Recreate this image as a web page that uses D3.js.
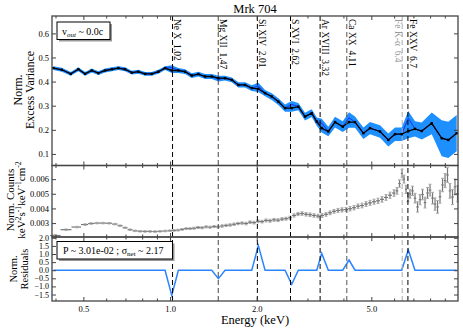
<!DOCTYPE html>
<html>
<head>
<meta charset="utf-8">
<script src="https://cdn.jsdelivr.net/npm/d3@7"></script>
<style>
  body { margin: 0; background: #fff; }
  svg { font-family: "Liberation Serif", "DejaVu Serif", serif; }
</style>
</head>
<body>
<div id="chart"></div>
<script>
// variance spectrum (top panel)
const varEnergy = [0.3934, 0.4207, 0.4520, 0.4802, 0.5068, 0.5346, 0.5637, 0.5946, 0.6273, 0.6614,
  0.6978, 0.7362, 0.7760, 0.8187, 0.8638, 0.9107, 0.9608, 1.0137, 1.0686, 1.1274,
  1.1894, 1.2541, 1.3231, 1.3959, 1.4718, 1.5524, 1.6378, 1.7266, 1.8215, 1.9216,
  2.0259, 2.1375, 2.2550, 2.3770, 2.5077, 2.6456, 2.7891, 2.9425, 3.1046, 3.2320,
  3.3630, 3.5450, 3.7411, 3.9783, 4.1831, 4.3892, 4.6924, 4.9488, 5.3608, 5.7280,
  6.0423, 6.3739, 6.7191, 7.0894, 7.4817, 8.1058, 8.7799, 9.2536, 9.8970];
const excessVar = [0.456, 0.449, 0.432, 0.451, 0.432, 0.446, 0.435, 0.446, 0.451, 0.456,
  0.451, 0.437, 0.441, 0.432, 0.432, 0.441, 0.456, 0.446, 0.446, 0.441,
  0.425, 0.431, 0.421, 0.421, 0.414, 0.414, 0.407, 0.386, 0.386, 0.373,
  0.370, 0.352, 0.338, 0.317, 0.290, 0.290, 0.296, 0.255, 0.269, 0.234,
  0.207, 0.193, 0.232, 0.213, 0.232, 0.232, 0.186, 0.207, 0.193, 0.158,
  0.182, 0.182, 0.195, 0.204, 0.195, 0.227, 0.165, 0.158, 0.186];
const excessErr = [0.008, 0.008, 0.008, 0.008, 0.008, 0.008, 0.008, 0.008, 0.008, 0.008,
  0.008, 0.008, 0.008, 0.008, 0.008, 0.008, 0.008, 0.010, 0.010, 0.010,
  0.010, 0.010, 0.010, 0.010, 0.010, 0.010, 0.010, 0.011, 0.011, 0.012,
  0.013, 0.013, 0.014, 0.014, 0.015, 0.015, 0.015, 0.016, 0.016, 0.017,
  0.018, 0.020, 0.022, 0.022, 0.023, 0.023, 0.024, 0.025, 0.026, 0.027,
  0.028, 0.028, 0.030, 0.032, 0.035, 0.045, 0.075, 0.075, 0.075];
const modelVar = [0.456, 0.449, 0.432, 0.451, 0.432, 0.446, 0.435, 0.446, 0.451, 0.456,
  0.451, 0.437, 0.441, 0.432, 0.432, 0.441, 0.456, 0.458, 0.446, 0.441,
  0.425, 0.431, 0.421, 0.421, 0.410, 0.414, 0.407, 0.386, 0.386, 0.373,
  0.382, 0.352, 0.338, 0.317, 0.290, 0.305, 0.296, 0.255, 0.269, 0.234,
  0.228, 0.193, 0.232, 0.213, 0.250, 0.232, 0.186, 0.207, 0.193, 0.158,
  0.182, 0.182, 0.248, 0.204, 0.195, 0.227, 0.165, 0.158, 0.186];
const residuals = [0, 0, 0, 0, 0, 0, 0, 0, 0, 0,
  0, 0, 0, 0, 0, 0, 0, -1.55, 0, 0,
  0, 0, 0, 0, -0.52, 0, 0, 0, 0, 0,
  1.52, 0, 0, 0, 0, -0.87, 0, 0, 0, 0,
  1.04, 0, 0, 0, 0.63, 0, 0, 0, 0, 0,
  0, 0, 1.25, 0, 0, 0, 0, 0, 0];

// count spectrum (middle panel)
const specEnergy = [0.399, 0.435, 0.475, 0.507, 0.532, 0.558, 0.585, 0.614, 0.644, 0.671,
  0.698, 0.726, 0.756, 0.787, 0.819, 0.852, 0.887, 0.923, 0.961, 1.000,
  1.032, 1.066, 1.101, 1.137, 1.173, 1.211, 1.251, 1.292, 1.334, 1.377,
  1.422, 1.468, 1.516, 1.565, 1.616, 1.668, 1.722, 1.778, 1.836, 1.896,
  1.957, 2.021, 2.086, 2.154, 2.224, 2.297, 2.371, 2.448, 2.528, 2.610,
  2.695, 2.783, 2.873, 2.966, 3.063, 3.162, 3.265, 3.371, 3.481, 3.594,
  3.711, 3.831, 3.956, 4.084, 4.217, 4.354, 4.496, 4.642, 4.793, 4.948,
  5.109, 5.275, 5.447, 5.623, 5.806, 5.995, 6.141, 6.265, 6.392, 6.494,
  6.599, 6.705, 6.813, 6.950, 7.091, 7.235, 7.381, 7.530, 7.682, 7.838,
  7.996, 8.158, 8.323, 8.491, 8.660, 8.837, 9.016, 9.195, 9.380, 9.570,
  9.763, 9.961];
const specCounts = [0.00215, 0.00255, 0.00273, 0.00290, 0.00297, 0.00300, 0.00300, 0.00299, 0.00293, 0.00282,
  0.00268, 0.00255, 0.00247, 0.00244, 0.00243, 0.00243, 0.00242, 0.00244, 0.00246, 0.00248,
  0.00250, 0.00252, 0.00257, 0.00262, 0.00262, 0.00265, 0.00270, 0.00268, 0.00274, 0.00272,
  0.00276, 0.00274, 0.00280, 0.00284, 0.00287, 0.00292, 0.00297, 0.00300, 0.00297, 0.00306,
  0.00303, 0.00312, 0.00310, 0.00318, 0.00316, 0.00322, 0.00320, 0.00327, 0.00330, 0.00336,
  0.00352, 0.00362, 0.00365, 0.00360, 0.00357, 0.00352, 0.00348, 0.00352, 0.00360, 0.00370,
  0.00380, 0.00386, 0.00390, 0.00392, 0.00398, 0.00405, 0.00415, 0.00420, 0.00430, 0.00438,
  0.00446, 0.00452, 0.00462, 0.00475, 0.00490, 0.00505, 0.00520, 0.00570, 0.00640, 0.00600,
  0.00530, 0.00475, 0.00500, 0.00520, 0.00470, 0.00410, 0.00460, 0.00495, 0.00440, 0.00505,
  0.00525, 0.00470, 0.00430, 0.00410, 0.00480, 0.00560, 0.00590, 0.00628, 0.00520, 0.00478,
  0.00547, 0.00500];
const specErr = [0.00005, 0.00005, 0.00005, 0.00005, 0.00005, 0.00005, 0.00005, 0.00005, 0.00005, 0.00005,
  0.00005, 0.00005, 0.00005, 0.00005, 0.00005, 0.00005, 0.00005, 0.00005, 0.00005, 0.00005,
  0.00006, 0.00006, 0.00006, 0.00006, 0.00006, 0.00007, 0.00007, 0.00007, 0.00007, 0.00007,
  0.00007, 0.00007, 0.00008, 0.00008, 0.00008, 0.00008, 0.00008, 0.00008, 0.00009, 0.00009,
  0.00009, 0.00009, 0.00009, 0.00010, 0.00010, 0.00010, 0.00010, 0.00010, 0.00010, 0.00011,
  0.00011, 0.00011, 0.00012, 0.00012, 0.00012, 0.00012, 0.00012, 0.00013, 0.00013, 0.00013,
  0.00013, 0.00014, 0.00014, 0.00014, 0.00015, 0.00015, 0.00015, 0.00016, 0.00016, 0.00017,
  0.00017, 0.00018, 0.00019, 0.00020, 0.00021, 0.00022, 0.00023, 0.00025, 0.00027, 0.00027,
  0.00028, 0.00030, 0.00030, 0.00032, 0.00033, 0.00035, 0.00035, 0.00036, 0.00037, 0.00038,
  0.00040, 0.00040, 0.00042, 0.00043, 0.00044, 0.00046, 0.00048, 0.00050, 0.00050, 0.00052,
  0.00054, 0.00055];

// line identifications
const lineNames = ["Ne X", "Mg XII", "Si XIV", "S XVI", "Ar XVIII", "Ca XX", "Fe K-α", "Fe XXV"];
const lineEnergy = [1.02, 1.47, 2.01, 2.62, 3.32, 4.11, 6.4, 6.7];
const lineLabel = ["1.02", "1.47", "2.01", "2.62", "3.32", "4.11", "6.4", "6.7"];
const lineColor = ["#000", "#444", "#000", "#000", "#000", "#555", "#aaa", "#000"];

const xMajor = [0.5, 1, 2, 5];
const xMinor = [0.4, 0.6, 0.7, 0.8, 0.9, 3, 4, 6, 7, 8, 9];

const W = 463, H = 331;
const L = 52, R = 458;
const top1 = 16, bot1 = 165.5, bot2 = 237, bot3 = 301;

const svg = d3.select("#chart").append("svg").attr("width", W).attr("height", H);

const x = d3.scaleLog().domain([0.389, 10]).range([L, R]);
const yVar = d3.scaleLinear().domain([0.052, 0.672]).range([bot1, top1]);
const yCnt = d3.scaleLinear().domain([0.00205, 0.00693]).range([bot2, bot1]);
const yRes = d3.scaleLinear().domain([-1.9, 2.05]).range([bot3, bot2]);

const panels = [[top1, bot1], [bot1, bot2], [bot2, bot3]];

// --- top panel: band, model, data
const band = d3.area()
  .x((d, i) => x(varEnergy[i]))
  .y0((d, i) => yVar(Math.min(excessVar[i], modelVar[i]) - excessErr[i]))
  .y1((d, i) => yVar(Math.max(excessVar[i], modelVar[i]) + excessErr[i]));
svg.append("path").datum(varEnergy).attr("d", band).attr("fill", "#1e8fff");

svg.append("path").datum(modelVar)
  .attr("d", d3.line().x((d, i) => x(varEnergy[i])).y(d => yVar(d)))
  .attr("fill", "none").attr("stroke", "#1a2ff0").attr("stroke-width", 1);

svg.append("path").datum(excessVar)
  .attr("d", d3.line().x((d, i) => x(varEnergy[i])).y(d => yVar(d)))
  .attr("fill", "none").attr("stroke", "#000").attr("stroke-width", 1.3);

svg.selectAll("rect.pt").data(excessVar).enter().append("rect")
  .attr("class", "pt")
  .attr("x", (d, i) => x(varEnergy[i]) - 1.2)
  .attr("y", d => yVar(d) - 1.2)
  .attr("width", 2.4).attr("height", 2.4)
  .attr("fill", "#000");

// --- middle panel: spectrum with error bars
const gSpec = svg.append("g");
specEnergy.forEach((e, i) => {
  const lo = i > 0 ? Math.sqrt(e * specEnergy[i - 1]) : e * 0.96;
  const hi = i < specEnergy.length - 1 ? Math.sqrt(e * specEnergy[i + 1]) : e * 1.01;
  const cx = x(e), cy = yCnt(specCounts[i]);
  const ya = yCnt(specCounts[i] + specErr[i]), yb = yCnt(specCounts[i] - specErr[i]);
  gSpec.append("line").attr("x1", x(lo)).attr("x2", x(hi)).attr("y1", cy).attr("y2", cy)
    .attr("stroke", "#777").attr("stroke-width", 1.2);
  gSpec.append("line").attr("x1", cx).attr("x2", cx).attr("y1", ya).attr("y2", yb)
    .attr("stroke", "#777").attr("stroke-width", 1.2);
  gSpec.append("line").attr("x1", cx - 1.5).attr("x2", cx + 1.5).attr("y1", ya).attr("y2", ya)
    .attr("stroke", "#aaa").attr("stroke-width", 1);
  gSpec.append("line").attr("x1", cx - 1.5).attr("x2", cx + 1.5).attr("y1", yb).attr("y2", yb)
    .attr("stroke", "#aaa").attr("stroke-width", 1);
});

// --- bottom panel: residuals
svg.append("path").datum(residuals)
  .attr("d", d3.line().x((d, i) => x(varEnergy[i])).y(d => yRes(d)))
  .attr("fill", "none").attr("stroke", "#2a84ff").attr("stroke-width", 1.5);

// --- dashed line markers
lineEnergy.forEach((e, i) => {
  svg.append("line")
    .attr("x1", x(e)).attr("x2", x(e)).attr("y1", top1).attr("y2", bot3)
    .attr("stroke", lineColor[i]).attr("stroke-width", 1)
    .attr("stroke-dasharray", "5,3");
  const left = lineNames[i] === "Fe K-α";
  const tx = left ? x(e) - 7.5 : x(e) + 1.8;
  svg.append("text")
    .attr("transform", "translate(" + tx + "," + (top1 + 3) + ") rotate(90)")
    .attr("font-size", 9.5)
    .attr("fill", left ? "#999" : "#000")
    .attr("xml:space", "preserve")
    .text(lineNames[i] + "  " + lineLabel[i]);
});

// --- axes (ticks inward)
panels.forEach(([t, b], k) => {
  const last = k === 2;
  const axB = d3.axisBottom(x).tickValues(xMajor).tickSizeInner(-4).tickSizeOuter(0).tickPadding(5)
    .tickFormat(last ? d3.format(".1f") : () => "");
  const gB = svg.append("g").attr("transform", "translate(0," + b + ")").call(axB);
  const gBm = svg.append("g").attr("transform", "translate(0," + b + ")")
    .call(d3.axisBottom(x).tickValues(xMinor).tickSizeInner(-2.5).tickSizeOuter(0).tickFormat(() => ""));
  const gT = svg.append("g").attr("transform", "translate(0," + t + ")")
    .call(d3.axisTop(x).tickValues(xMajor).tickSizeInner(-4).tickSizeOuter(0).tickFormat(() => ""));
  const gTm = svg.append("g").attr("transform", "translate(0," + t + ")")
    .call(d3.axisTop(x).tickValues(xMinor).tickSizeInner(-2.5).tickSizeOuter(0).tickFormat(() => ""));
  [gB, gBm, gT, gTm].forEach(g => {
    g.select(".domain").remove();
    g.selectAll("line").attr("stroke", "#444");
    g.selectAll("text").attr("font-family", "Liberation Serif").attr("font-size", 8.5).attr("fill", "#000");
  });
});

function yAxes(scale, ticks, fmt, size) {
  const gl = svg.append("g").attr("transform", "translate(" + L + ",0)")
    .call(d3.axisLeft(scale).tickValues(ticks).tickSizeInner(-4).tickSizeOuter(0).tickPadding(3).tickFormat(fmt));
  const gr = svg.append("g").attr("transform", "translate(" + R + ",0)")
    .call(d3.axisRight(scale).tickValues(ticks).tickSizeInner(-4).tickSizeOuter(0).tickFormat(() => ""));
  [gl, gr].forEach(g => {
    g.select(".domain").remove();
    g.selectAll("line").attr("stroke", "#444");
    g.selectAll("text").attr("font-family", "Liberation Serif").attr("font-size", size).attr("fill", "#000");
  });
}
yAxes(yVar, [0.1, 0.2, 0.3, 0.4, 0.5, 0.6], d3.format(".1f"), 8.5);
yAxes(yCnt, [0.003, 0.004, 0.005, 0.006], d3.format(".3f"), 8.5);
yAxes(yRes, [-1.5, -1.0, -0.5, 0, 0.5, 1.0, 1.5, 2.0], d3.format(".1f"), 8);

// frames
panels.forEach(([t, b]) => {
  svg.append("rect").attr("x", L).attr("y", t).attr("width", R - L).attr("height", b - t)
    .attr("fill", "none").attr("stroke", "#444").attr("stroke-width", 1.3);
});

// titles
svg.append("text").attr("x", 255).attr("y", 13).attr("text-anchor", "middle")
  .attr("font-size", 12.5).text("Mrk 704");
svg.append("text").attr("x", 255).attr("y", 324).attr("text-anchor", "middle")
  .attr("font-size", 12.5).text("Energy (keV)");

function yLabel(lines, cx, cy, size) {
  const t = svg.append("text").attr("transform", "translate(" + cx + "," + cy + ") rotate(-90)")
    .attr("text-anchor", "middle").attr("font-size", size);
  lines.forEach((ln, j) => {
    const ts = t.append("tspan").attr("x", 0).attr("dy", j === 0 ? 0 : size * 1.0);
    ln.forEach(part => {
      const s = ts.append("tspan").text(part[0]);
      if (part[1]) s.attr("baseline-shift", "super").attr("font-size", size * 0.7);
    });
  });
}
yLabel([[["Norm."]], [["Excess Variance"]]], 22, 90, 12);
yLabel([[["Norm. Counts"]], [["keV"], ["2", 1], ["s"], ["-1", 1], ["keV"], ["-1", 1], ["cm"], ["-2", 1]]], 14, 200, 11);
yLabel([[["Norm."]], [["Residuals"]]], 17, 269, 10.5);

// legend boxes
function box(bx, by, bw, bh) {
  svg.append("rect").attr("x", bx + 2).attr("y", by + 2).attr("width", bw).attr("height", bh).attr("fill", "#999");
  svg.append("rect").attr("x", bx).attr("y", by).attr("width", bw).attr("height", bh)
    .attr("fill", "#fff").attr("stroke", "#000").attr("stroke-width", 1);
}
box(57, 22, 53, 17.5);
const t1 = svg.append("text").attr("x", 62).attr("y", 34.5).attr("font-size", 10);
t1.append("tspan").text("v");
t1.append("tspan").attr("font-size", 7).attr("font-style", "italic").attr("dy", 2).text("out");
t1.append("tspan").attr("dy", -2).text(" ~ 0.0c");

box(57, 241.5, 115.5, 17.5);
const t2 = svg.append("text").attr("x", 63).attr("y", 254).attr("font-size", 10);
t2.append("tspan").text("P ~ 3.01e-02 ; σ");
t2.append("tspan").attr("font-size", 7).attr("dy", 2).text("net");
t2.append("tspan").attr("dy", -2).text(" ~ 2.17");
</script>
</body>
</html>
